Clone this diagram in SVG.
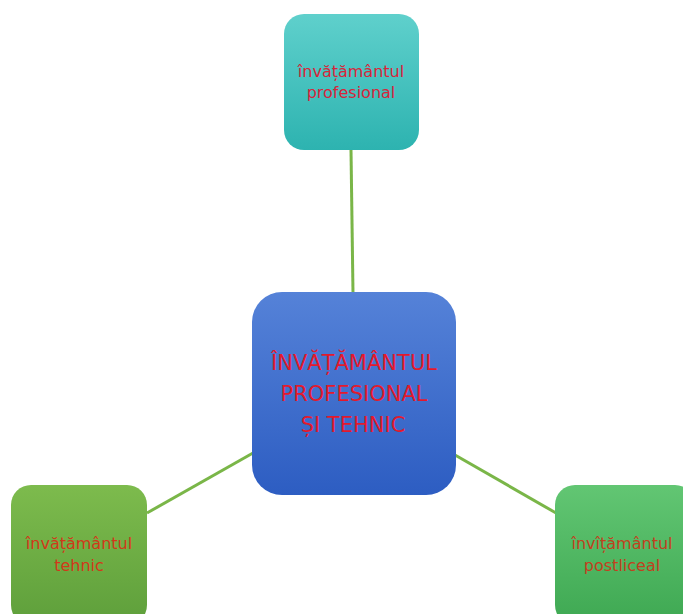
<svg xmlns="http://www.w3.org/2000/svg" width="683" height="614" viewBox="0 0 683 614">
<defs>
<linearGradient id="gTeal" x1="0" y1="0" x2="0" y2="1"><stop offset="0" stop-color="#5fd0cc"/><stop offset="1" stop-color="#2db3b0"/></linearGradient>
<linearGradient id="gBlue" x1="0" y1="0" x2="0" y2="1"><stop offset="0" stop-color="#5582d8"/><stop offset="1" stop-color="#2d5dc2"/></linearGradient>
<linearGradient id="gGreen1" x1="0" y1="0" x2="0" y2="1"><stop offset="0" stop-color="#7dbb4d"/><stop offset="1" stop-color="#5e9f3b"/></linearGradient>
<linearGradient id="gGreen2" x1="0" y1="0" x2="0" y2="1"><stop offset="0" stop-color="#62c673"/><stop offset="1" stop-color="#3ea852"/></linearGradient>
</defs>
<style>
.conn{stroke:#7ab648;stroke-width:3;fill:none}
.t{font-family:"DejaVu Sans","Noto Sans",sans-serif;text-anchor:middle}
.s{font-size:16px}
.b{font-size:21px}
</style>
<rect width="683" height="614" fill="#ffffff"/>
<g id="connectors">
<line class="conn" x1="351" y1="150" x2="353" y2="293"/>
<line class="conn" x1="147" y1="513" x2="253" y2="453"/>
<line class="conn" x1="455" y1="455" x2="556" y2="513"/>
</g>
<g id="node-top">
<rect x="284" y="14" width="135" height="136" rx="20" fill="url(#gTeal)"/>
<text class="t s" x="351" y="77" fill="#d9243a">învățământul</text>
<text class="t s" x="351" y="98" fill="#d9243a">profesional</text>
</g>
<g id="node-center">
<rect x="252" y="292" width="204" height="203" rx="30" fill="url(#gBlue)"/>
<text class="t b" x="354" y="370" fill="#e3192c">ÎNVĂȚĂMÂNTUL</text>
<text class="t b" x="354" y="401" fill="#e3192c">PROFESIONAL</text>
<text class="t b" x="353" y="432" fill="#e3192c">ȘI TEHNIC</text>
</g>
<g id="node-left">
<rect x="11" y="485" width="136" height="140" rx="20" fill="url(#gGreen1)"/>
<text class="t s" x="79" y="549" fill="#d2381a">învățământul</text>
<text class="t s" x="79" y="571" fill="#d2381a">tehnic</text>
</g>
<g id="node-right">
<rect x="555" y="485" width="140" height="140" rx="20" fill="url(#gGreen2)"/>
<text class="t s" x="622" y="549" fill="#c2401e">învîțământul</text>
<text class="t s" x="622" y="571" fill="#c2401e">postliceal</text>
</g>
</svg>
